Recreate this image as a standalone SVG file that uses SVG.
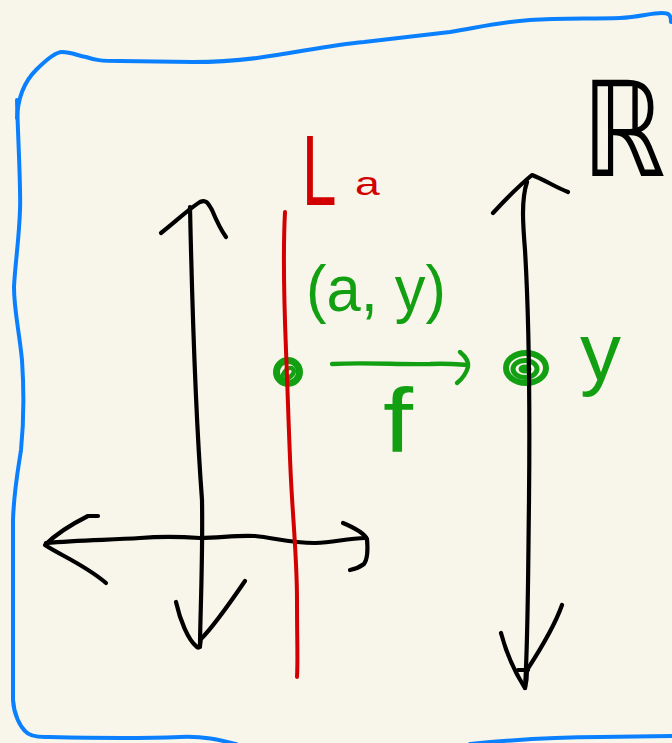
<svg xmlns="http://www.w3.org/2000/svg" width="672" height="743" viewBox="0 0 672 743">
<style>
.ink{fill:none;stroke-linecap:round;stroke-linejoin:round}
.k{stroke:#000;stroke-width:4.2}
.r{stroke:#d20000;stroke-width:4}
.g{stroke:#12a012;stroke-width:4.4}
.b{stroke:#0a80ff;stroke-width:4}
.t{font-family:"Liberation Sans","DejaVu Sans",sans-serif}
.tg{fill:#12a012}
.tr{fill:#d20000}
</style>
<rect width="672" height="743" fill="#f8f6ea"/>
<g id="frame">
<path class="ink b" d="M17,118 C18,95 26,80 36,70 C46,60 55,52 62,52 C72,52 78,56 86,57 C95,60 100,61 120,61 L193,62 C220,62 240,60 257,58 C300,52 330,45 364,42 C400,38 425,35 450,32 C480,27 500,22 530,20 C560,18 590,19 620,18 C640,17 650,13 662,13 C668,13 671,14 671,22"/>
<path class="ink b" d="M17,100 C18,140 21,190 20,210 C19,240 15,265 14,287 C14,310 19,330 22,360 C24,390 24,420 21,450 C18,470 14,490 13,520 L13,700 C14,715 20,726 25,731 C29,736 36,737 45,737 C90,738 130,739 180,737 C205,736 220,740 236,744"/>
<path class="ink b" d="M470,744 C520,739 560,737 600,737 L672,736"/>
</g>
<g id="point-ay">
<circle cx="288" cy="372" r="11.5" fill="none" stroke="#12a012" stroke-width="7"/>
<path class="ink g" d="M282,377 C285,368 292,365 294,371 C293,377 287,379 283,379"/>
</g>
<g id="point-y">
<ellipse cx="526" cy="368" rx="20" ry="15" fill="none" stroke="#12a012" stroke-width="6"/>
<ellipse cx="525" cy="369" rx="12" ry="8.5" fill="none" stroke="#12a012" stroke-width="5"/>
<ellipse cx="525" cy="369" rx="5" ry="3" fill="#12a012" stroke="#12a012" stroke-width="3"/>
</g>
<g id="connectors">
<g id="left-vertical-axis">
<path class="ink k" d="M190,207 C192,300 196,420 202,500 C203,560 200,620 200,647"/>
<path class="ink k" d="M161,233 C175,222 190,208 200,202 C206,199 208,203 212,210 C217,222 221,230 226,237"/>
<path class="ink k" d="M176,602 C180,620 188,640 197,647 C201,650 200,640 201,639 C215,625 232,600 245,581"/>
</g>
<g id="horizontal-axis">
<path class="ink k" d="M46,543 C80,540 110,540 140,538 C165,536 185,537 200,538 C220,538 235,535 255,536 C275,538 290,543 315,543 C335,543 345,538 366,538"/>
<path class="ink k" d="M98,516 L88,516 C72,524 55,535 45,545 C60,555 85,565 106,583"/>
<path class="ink k" d="M343,523 C355,528 364,533 367,539 C368,550 367,560 364,564 C360,567 355,569 350,570"/>
</g>
<g id="line-La">
<path class="ink r" d="M285,212 C283,250 284,300 286,350 C288,400 289,440 291,480 C293,520 297,560 297,600 C297,640 298,660 297,677"/>
</g>
<g id="right-vertical-axis">
<path class="ink k" d="M527,182 C521,200 523,225 525,250 C528,300 530,400 529,500 C528,580 528,640 525,688"/>
<path class="ink k" d="M493,213 C505,200 520,185 532,175 C545,180 555,187 568,192"/>
<path class="ink k" d="M501,633 C506,652 512,668 525,688 C527,680 527,672 527,670 C540,650 555,625 562,605"/>
<path class="ink k" d="M518,670 L528,670"/>
</g>
<g id="arrow-f">
<path class="ink g" d="M332,364 C370,362 400,365 430,364 C445,363 455,364 468,365"/>
<path class="ink g" d="M460,352 C466,357 469,362 468,367 C466,374 462,379 457,383"/>
</g>
</g>
<g id="label-La">
<text class="t tr" font-size="100" transform="translate(302,205) scale(0.62,1)">L</text>
<text class="t tr" font-size="33" transform="translate(355,195) scale(1.35,1)">a</text>
</g>
<g id="label-R">
<text font-family="DejaVu Sans,sans-serif" font-size="132" transform="translate(582,176) scale(0.8,1)">ℝ</text>
</g>
<g id="label-ay">
<text class="t tg" x="306" y="311" font-size="64" textLength="140" lengthAdjust="spacingAndGlyphs">(a, y)</text>
</g>
<g id="label-f">
<text class="t tg" font-size="90" transform="translate(383,452) scale(1.2,1)">f</text>
</g>
<g id="label-y">
<text class="t tg" x="580" y="380" font-size="82">y</text>
</g>
</svg>
